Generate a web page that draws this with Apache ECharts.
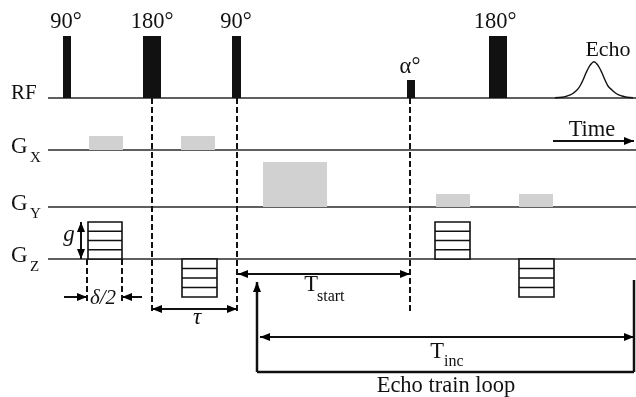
<!DOCTYPE html>
<html><head><meta charset="utf-8">
<script src="https://cdn.jsdelivr.net/npm/echarts@6/dist/echarts.min.js"></script>
<style>html,body{margin:0;padding:0;background:#fff}#c{width:636px;height:397px}</style>
</head><body><div id="c"></div>
<script>
// Diagram coordinates: x = time (diagram units), y = vertical position (diagram units, downward)
const baselineY = [98, 150, 207, 259];          // RF, Gx, Gy, Gz
const baselineRange = [48, 636];
const rfPulses = [[63, 71, 36], [143, 161, 36], [232, 241, 36], [407, 415, 80], [489, 507, 36]]; // start, end, top
const gxLobes = [[89, 123, 136], [181, 215, 136]];
const gyLobes = [[263, 327, 162], [436, 470, 194], [519, 553, 194]];
const gzStacks = [[88, 122, 222], [182, 217, 297], [435, 470, 222], [519, 554, 297]]; // start, end, far edge
const echoX = [555, 562, 567, 572, 577, 580, 583, 586, 589, 591.5, 594, 596.5, 599, 602, 605, 608, 612, 617, 622, 627, 633];
const echoY = [97.8, 97.3, 96, 94, 90, 86, 80, 73, 67, 63.5, 61.7, 63.5, 67, 73, 80, 86, 90, 94, 96, 97.3, 97.8];
const dashedLines = [[152, 98, 152, 312], [237, 98, 237, 312], [410, 98, 410, 312], [87, 259, 87, 304], [122, 259, 122, 304]];
// x0,y0,x1,y1, headAtStart, headAtEnd, width
const arrows = [
  [64, 297, 87, 297, 0, 1, 2],
  [142, 297, 122, 297, 0, 1, 2],
  [81, 222, 81, 259, 1, 1, 2],
  [152, 309, 237, 309, 1, 1, 2],
  [238, 274, 410, 274, 1, 1, 2],
  [260, 337, 634, 337, 1, 1, 2],
  [553, 141, 634, 141, 0, 1, 2],
  [257, 372, 257, 282, 0, 1, 2.5]
];
const loopLines = [[257, 372, 634, 372], [634, 372, 634, 280]];
// text labels: x, y, text, size, italic, align
const labels = [
  [66, 22, '90°', 22.5, 0, 'center'],
  [152, 22, '180°', 22.5, 0, 'center'],
  [236, 22, '90°', 22.5, 0, 'center'],
  [410, 67, 'α°', 22.5, 0, 'center'],
  [495, 22, '180°', 22.5, 0, 'center'],
  [608, 50, 'Echo', 22, 0, 'center'],
  [592, 130, 'Time', 22.5, 0, 'center'],
  [11, 93, 'RF', 21, 0, 'left'],
  [11, 147, 'G', 23, 0, 'left'],
  [30, 158, 'X', 15, 0, 'left'],
  [11, 204, 'G', 23, 0, 'left'],
  [30, 214, 'Y', 15, 0, 'left'],
  [11, 256, 'G', 23, 0, 'left'],
  [30, 267, 'Z', 15, 0, 'left'],
  [69, 235, 'g', 23, 1, 'center'],
  [103, 298, 'δ/2', 21, 1, 'center'],
  [197, 318, 'τ', 23, 1, 'center'],
  [311, 285, 'T', 22.5, 0, 'center'],
  [317, 297, 'start', 16, 0, 'left'],
  [437, 352, 'T', 22.5, 0, 'center'],
  [444, 362, 'inc', 16, 0, 'left'],
  [446, 386, 'Echo train loop', 22.5, 0, 'center']
];

const FONT = '"Liberation Serif", "Times New Roman", serif';
const chart = echarts.init(document.getElementById('c'), null, {renderer: 'canvas'});

function rectShape(api, x0, y0, x1, y1) {
  const a = api.coord([x0, y0]), b = api.coord([x1, y1]);
  return {x: Math.min(a[0], b[0]), y: Math.min(a[1], b[1]), width: Math.abs(b[0] - a[0]), height: Math.abs(b[1] - a[1])};
}
function lineEl(api, x0, y0, x1, y1, style) {
  const a = api.coord([x0, y0]), b = api.coord([x1, y1]);
  return {type: 'line', shape: {x1: a[0], y1: a[1], x2: b[0], y2: b[1]}, style: style};
}
function head(tip, from, len, hw) {
  const dx = tip[0] - from[0], dy = tip[1] - from[1];
  const L = Math.sqrt(dx * dx + dy * dy) || 1;
  const ux = dx / L, uy = dy / L;
  const bx = tip[0] - ux * len, by = tip[1] - uy * len;
  return {type: 'polygon', shape: {points: [tip, [bx - uy * hw, by + ux * hw], [bx + uy * hw, by - ux * hw]]}, style: {fill: '#000'}};
}

const series = [];
// baselines
series.push({
  type: 'custom', coordinateSystem: 'cartesian2d', silent: true, clip: false,
  data: baselineY.map(y => [baselineRange[0], y, baselineRange[1], y]),
  encode: {x: [0, 2], y: [1, 3]},
  renderItem: (p, api) => lineEl(api, api.value(0), api.value(1), api.value(2), api.value(3), {stroke: '#2a2a2a', lineWidth: 1.5})
});
// gradient lobes (gray)
series.push({
  type: 'custom', coordinateSystem: 'cartesian2d', silent: true, clip: false,
  data: gxLobes.map(g => [g[0], g[2], g[1], baselineY[1]]).concat(gyLobes.map(g => [g[0], g[2], g[1], baselineY[2]])),
  encode: {x: [0, 2], y: [1, 3]},
  renderItem: (p, api) => ({type: 'rect', shape: rectShape(api, api.value(0), api.value(1), api.value(2), api.value(3)), style: {fill: '#d0d1d0'}})
});
// RF pulses
series.push({
  type: 'custom', coordinateSystem: 'cartesian2d', silent: true, clip: false,
  data: rfPulses.map(r => [r[0], r[2], r[1], baselineY[0]]),
  encode: {x: [0, 2], y: [1, 3]},
  renderItem: (p, api) => ({type: 'rect', shape: rectShape(api, api.value(0), api.value(1), api.value(2), api.value(3)), style: {fill: '#111'}})
});
// Gz phase-encode stacks
series.push({
  type: 'custom', coordinateSystem: 'cartesian2d', silent: true, clip: false,
  data: gzStacks.map(s => [s[0], s[2], s[1], baselineY[3]]),
  encode: {x: [0, 2], y: [1, 3]},
  renderItem: (p, api) => {
    const x0 = api.value(0), y0 = api.value(1), x1 = api.value(2), y1 = api.value(3);
    const kids = [{type: 'rect', shape: rectShape(api, x0, y0, x1, y1), style: {fill: '#fff', stroke: '#111', lineWidth: 1.6}}];
    for (let k = 1; k < 4; k++) {
      const y = y0 + (y1 - y0) * k / 4;
      kids.push(lineEl(api, x0, y, x1, y, {stroke: '#111', lineWidth: 1.6}));
    }
    return {type: 'group', children: kids};
  }
});
// dashed lines
series.push({
  type: 'custom', coordinateSystem: 'cartesian2d', silent: true, clip: false,
  data: dashedLines,
  encode: {x: [0, 2], y: [1, 3]},
  renderItem: (p, api) => lineEl(api, api.value(0), api.value(1), api.value(2), api.value(3), {stroke: '#111', lineWidth: 2, lineDash: [6, 3]})
});
// loop lines
series.push({
  type: 'custom', coordinateSystem: 'cartesian2d', silent: true, clip: false,
  data: loopLines,
  encode: {x: [0, 2], y: [1, 3]},
  renderItem: (p, api) => lineEl(api, api.value(0), api.value(1), api.value(2), api.value(3), {stroke: '#111', lineWidth: 2.5})
});
// arrows
series.push({
  type: 'custom', coordinateSystem: 'cartesian2d', silent: true, clip: false,
  data: arrows,
  encode: {x: [0, 2], y: [1, 3]},
  renderItem: (p, api) => {
    const a = api.coord([api.value(0), api.value(1)]), b = api.coord([api.value(2), api.value(3)]);
    const w = api.value(6);
    const kids = [{type: 'line', shape: {x1: a[0], y1: a[1], x2: b[0], y2: b[1]}, style: {stroke: '#111', lineWidth: w}}];
    if (api.value(4)) kids.push(head(a, b, 10, 4));
    if (api.value(5)) kids.push(head(b, a, 10, 4));
    return {type: 'group', children: kids};
  }
});
// echo
series.push({
  type: 'line', data: echoX.map((x, i) => [x, echoY[i]]), smooth: 0.4, symbol: 'none',
  lineStyle: {color: '#111', width: 1.4}, silent: true
});
// labels
series.push({
  type: 'custom', coordinateSystem: 'cartesian2d', silent: true, clip: false,
  data: labels.map(l => [l[0], l[1]]),
  encode: {x: 0, y: 1},
  renderItem: (p, api) => {
    const l = labels[p.dataIndex];
    const c = api.coord([api.value(0), api.value(1)]);
    return {type: 'text', x: c[0], y: c[1], style: {
      text: l[2], fill: '#111', align: l[5], verticalAlign: 'middle',
      font: (l[4] ? 'italic ' : '') + l[3] + 'px ' + FONT
    }};
  }
});

chart.setOption({
  animation: false,
  backgroundColor: '#fff',
  grid: {left: 0, right: 0, top: 0, bottom: 0},
  xAxis: {type: 'value', min: 0, max: 636, show: false},
  yAxis: {type: 'value', min: 0, max: 397, inverse: true, show: false},
  series: series
});
</script></body></html>
